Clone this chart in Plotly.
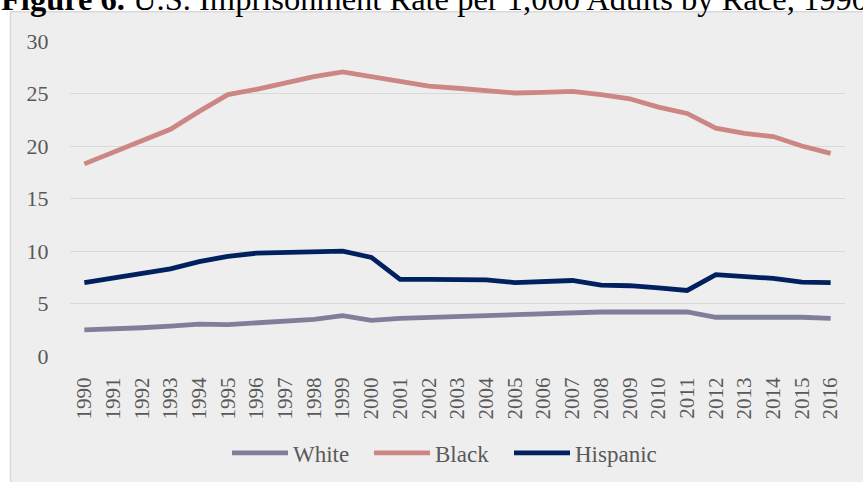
import plotly.graph_objects as go

years = [str(y) for y in range(1990, 2017)]
white = [2.5, 2.55, 2.7, 2.85, 3.05, 3.0, 3.15, 3.35, 3.5, 3.85, 3.4, 3.6, 3.7, 3.8, 3.85, 4.0, 4.1, 4.1,
         4.2, 4.2, 4.2, 4.2, 3.7, 3.7, 3.8, 3.7, 3.6]
black = [18.3, 19.4, 20.5, 21.6, 23.3, 24.9, 25.4, 26.0, 26.6, 27.06, 26.6, 26.1, 25.7, 25.5, 25.3, 25.05, 25.1,
         25.2, 24.9, 24.5, 23.7, 23.1, 21.7, 21.2, 20.9, 20.0, 19.3]
hispanic = [7.0, 7.4, 7.85, 8.3, 9.0, 9.5, 9.8, 9.9, 10.0, 10.0, 9.4, 7.3, 7.3, 7.3, 7.25, 7.0, 7.05, 7.2,
            6.75, 6.7, 6.5, 6.25, 7.75, 7.6, 7.4, 7.05, 7.0]
series_names = ["White", "Black", "Hispanic"]
colors = ["#7f7f9c", "#cc8785", "#002060"]
title_bold = "Figure 6."
title_rest = " U.S. Imprisonment Rate per 1,000 Adults by Race, 1990"

W, H = 863, 482
L, R, T, B = 70, 18, 41, 124
pw, ph = W - L - R, H - T - B

def px2x(p):
    return (p - L) / pw

def px2y(p):
    return (H - B - p) / ph

legend_ids = ["legend", "legend2", "legend3"]
legend_starts = [227, 369, 509]

fig = go.Figure()
for name, vals, c, lid in zip(series_names, [white, black, hispanic], colors, legend_ids):
    fig.add_trace(go.Scatter(x=years, y=vals, name=name, mode="lines", legend=lid,
                             line=dict(color=c, width=4.8)))

fig.add_shape(type="rect", xref="paper", yref="paper",
              x0=px2x(10.5), x1=px2x(880), y0=px2y(500), y1=px2y(11.5),
              fillcolor="#eeeeee", line=dict(color="#d9d9d9", width=1.5), layer="below")

fig.add_annotation(xref="paper", yref="paper", x=px2x(-1), y=px2y(-1),
                   xanchor="left", yanchor="middle", showarrow=False,
                   text="<b>" + title_bold + "</b>" + title_rest,
                   font=dict(family="Liberation Serif", size=32.5, color="#000000"))

legend_layout = {}
for lid, xs in zip(legend_ids, legend_starts):
    legend_layout[lid] = dict(orientation="h", xanchor="left", yanchor="middle",
                              xref="container", yref="container",
                              x=xs / W, y=1 - 453 / H, font=dict(size=23, color="#595959"),
                              itemwidth=56, bgcolor="rgba(0,0,0,0)")

fig.update_layout(
    width=W, height=H,
    margin=dict(l=L, r=R, t=T, b=B, pad=0),
    paper_bgcolor="white",
    plot_bgcolor="rgba(0,0,0,0)",
    font=dict(family="Liberation Serif", size=22, color="#595959"),
    showlegend=True,
    xaxis=dict(type="category", range=[-0.5, 26.5], showgrid=False, zeroline=False,
               tickangle=-90, tickfont=dict(size=21, color="#595959"),
               ticks="outside", ticklen=12, tickcolor="rgba(0,0,0,0)", showline=False),
    yaxis=dict(range=[0, 30], dtick=5, showgrid=True, gridcolor="#d9d9d9", gridwidth=1.3,
               zeroline=False, tickfont=dict(size=22, color="#595959"),
               ticks="outside", ticklen=16, tickcolor="rgba(0,0,0,0)", showline=False),
    **legend_layout,
)

fig.write_html("out.html")
